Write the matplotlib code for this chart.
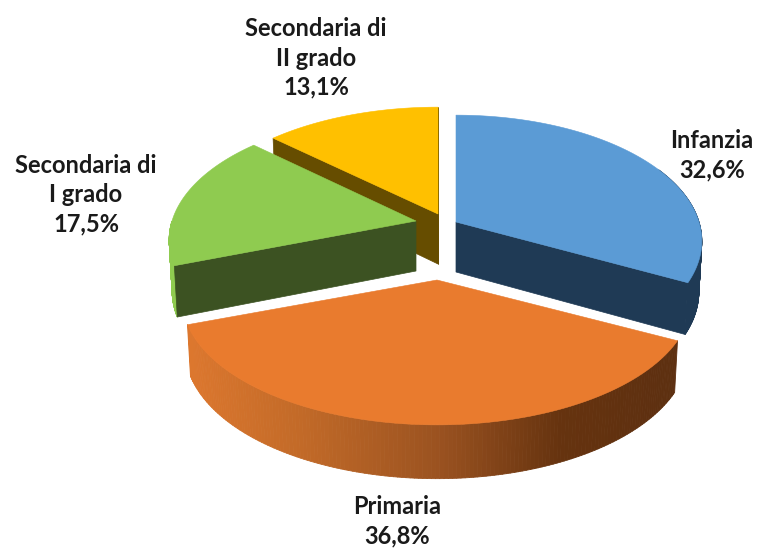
import numpy as np
import matplotlib
matplotlib.use("Agg")
import matplotlib.pyplot as plt
from matplotlib.collections import PolyCollection
from matplotlib.colors import to_rgb

categories = ["Infanzia", "Primaria", "Secondaria di I grado", "Secondaria di II grado"]
label_lines = ["Infanzia", "Primaria", "Secondaria di\nI grado", "Secondaria di\nII grado"]
values = [32.6, 36.8, 17.5, 13.1]
value_labels = ["32,6%", "36,8%", "17,5%", "13,1%"]
top_colors = ["#5B9BD5", "#E97B2E", "#8FCB50", "#FFC000"]
cut_colors = ["#1F3A55", "#5E3010", "#3C5222", "#664D00"]

# Style: apex position, radius for each exploded slice, perspective and thickness
apex = [(456, 222), (437, 280), (416, 221), (438, 214)]
radius = [243, 252, 244, 248]
K, B, DEPTH = 0.151, 123.0, 50.0
label_pos = [(712, 155), (397, 521), (86, 195), (316, 58)]

W, H = 758, 548
fig = plt.figure(figsize=(W / 100, H / 100), dpi=100)
ax = fig.add_axes([0, 0, 1, 1])
ax.set_xlim(0, W)
ax.set_ylim(H, 0)
ax.axis("off")

edges = np.concatenate([[0], np.cumsum(values)]) / np.sum(values) * 2 * np.pi


def rim(i, theta, lower=False):
    """Project a rim angle (clockwise from 12 o'clock) of slice i to pixels."""
    u, v = np.sin(theta), np.cos(theta)
    w = 1 + K * v
    x = radius[i] * u / w
    y = -B * v / w
    if lower:
        x = x * 0.988
        y = y + DEPTH * (1 - 0.5 * K * v)
    return apex[i][0] + x, apex[i][1] + y


def arc(i, a, b, lower=False, n=160):
    return rim(i, np.linspace(a, b, n), lower)


def cut_face(i, theta):
    x0, y0 = apex[i]
    xt, yt = rim(i, theta)
    xb, yb = rim(i, theta, True)
    ax.fill([x0, xt, xb, x0], [y0, yt, yb, y0 + DEPTH],
            color=cut_colors[i], lw=0.5, zorder=z[i])


def outer_wall(i, a, b, shade):
    th = np.linspace(a, b, 161)
    xt, yt = rim(i, th)
    xb, yb = rim(i, th, True)
    quads = [[(xt[j], yt[j]), (xt[j + 1], yt[j + 1]), (xb[j + 1], yb[j + 1]), (xb[j], yb[j])]
             for j in range(len(th) - 1)]
    cols = [shade((xt[j] + xt[j + 1]) / 2) for j in range(len(th) - 1)]
    ax.add_collection(PolyCollection(quads, facecolors=cols, edgecolors=cols, linewidths=0.6, zorder=z[i]))


def primaria_shade(x):
    stops_x = [190, 300, 440, 560, 690]
    stops_c = [to_rgb(c) for c in ["#DC772E", "#C26A28", "#9A5220", "#66330F", "#5C2F10"]]
    return tuple(np.interp(x, stops_x, [c[k] for c in stops_c]) for k in range(3))


z = [3, 4, 2, 1]

# Secondaria di II grado: both cuts visible
cut_face(3, edges[3])
cut_face(3, edges[4])
# Secondaria di I grado: lit outer wall on the left, dark cut on the near side
outer_wall(2, edges[2], edges[2] + 0.35, lambda x: to_rgb(top_colors[2]))
cut_face(2, edges[2])
# Infanzia: dark outer wall on the right and near cut
outer_wall(0, edges[0] + 1.1, edges[1], lambda x: to_rgb(cut_colors[0]))
cut_face(0, edges[1])
# Primaria: graded outer wall
outer_wall(1, edges[1], edges[2], primaria_shade)

for i in range(4):
    xs, ys = arc(i, edges[i], edges[i + 1])
    ax.fill(np.r_[apex[i][0], xs], np.r_[apex[i][1], ys], color=top_colors[i], lw=0.4, zorder=z[i] + 0.5)

for name, val, (x, y) in zip(label_lines, value_labels, label_pos):
    ax.text(x, y, f"{name}\n{val}", ha="center", va="center", family="Lato", fontweight="bold",
            fontsize=17, color="#1a1a1a", linespacing=1.33, zorder=10, clip_on=False)

fig.savefig("out.png", dpi=100, facecolor="white")
